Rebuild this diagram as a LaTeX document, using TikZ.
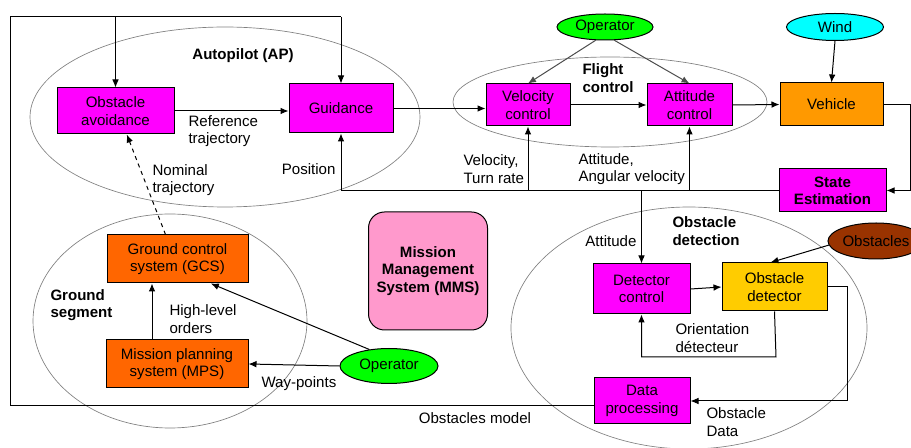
\documentclass[tikz,border=0pt]{standalone}
\usepackage{fontspec}
\setmainfont{Liberation Sans}
\usetikzlibrary{arrows.meta,shapes.geometric}

\definecolor{magbox}{RGB}{255,0,255}
\definecolor{vehorange}{RGB}{255,153,0}
\definecolor{gndorange}{RGB}{255,102,0}
\definecolor{opgreen}{RGB}{0,255,0}
\definecolor{windcyan}{RGB}{0,255,255}
\definecolor{obsbrown}{RGB}{153,51,0}
\definecolor{detyellow}{RGB}{255,204,0}
\definecolor{mmspink}{RGB}{255,153,204}

\newcommand{\diagfont}{\fontsize{11.3}{13}\selectfont}

\tikzset{every picture/.style={line width=0.75pt}}
\tikzset{
  blk/.style 2 args={draw, rectangle, align=center, inner sep=0pt,
    minimum width=#1*0.75pt, minimum height=#2*0.75pt},
  oval/.style 2 args={draw, ellipse, inner sep=0pt,
    minimum width=#1*0.75pt, minimum height=#2*0.75pt},
  group/.style={draw=gray, line width=0.5pt},
  lbl/.style={align=left, inner sep=0pt},
  ttl/.style={align=left, inner sep=0pt, font=\diagfont\bfseries},
  arr/.style={-{Latex[length=6pt,width=5pt]}},
}

\begin{document}
\begin{tikzpicture}[x=0.75pt,y=0.75pt,yscale=-1,xscale=1,
  font=\diagfont]
	\useasboundingbox (0,0) rectangle (911,448);

	%Groups (ellipses)
	\draw [group] (225,117) ellipse [x radius=195, y radius=90];
	\draw [group] (610,102) ellipse [x radius=157, y radius=45];
	\draw [group] (170,321) ellipse [x radius=137, y radius=107];
	\draw [group] (689,328) ellipse [x radius=178, y radius=121];

	%Autopilot
	\node [blk={117}{46}, fill=magbox] (oa) at (115.5,111) {Obstacle\\avoidance};
	\node [blk={104}{49}, fill=magbox] (guid) at (341,108.5) {Guidance};
	%Flight control
	\node [blk={84}{42}, fill=magbox] (velc) at (528,105) {Velocity\\control};
	\node [blk={85}{42}, fill=magbox] (attc) at (689.5,105) {Attitude\\control};
	\node [oval={96}{26}, fill=opgreen] (opf) at (605,27) {Operator};
	%Vehicle
	\node [blk={103}{43}, fill=vehorange] (veh) at (831.5,104.5) {Vehicle};
	\node [oval={97}{27}, fill=windcyan] (wind) at (835,27) {Wind};
	\node [blk={107}{43}, fill=magbox, font=\diagfont\bfseries] (se) at (832.5,190.5) {State\\Estimation};
	%Obstacle detection
	\node [blk={97}{50}, fill=magbox] (detc) at (641.5,289) {Detector\\control};
	\node [blk={105}{48}, fill=detyellow] (obsd) at (774.5,287) {Obstacle\\detector};
	\node [oval={96}{36}, fill=obsbrown] (obst) at (876,241) {Obstacles};
	\node [blk={96}{46}, fill=magbox] (dp) at (642,401) {Data\\processing};
	%Ground segment
	\node [blk={141}{48}, fill=gndorange] (gcs) at (177.5,259) {Ground control\\system (GCS)};
	\node [blk={142}{48}, fill=gndorange] (mps) at (177,364) {Mission planning\\system (MPS)};
	\node [oval={98}{35}, fill=opgreen] (opg) at (389,366) {Operator};
	%MMS
	\node [blk={119}{118}, fill=mmspink, rounded corners=12pt, font=\diagfont\bfseries] (mms) at (428,271) {Mission\\Management\\System (MMS)};

	%Outer loop
	\coordinate (fbl) at (10,406);
	\coordinate (ftl) at (10,17);
	\draw (dp.west |- fbl) -- (fbl) -- (ftl) -- (guid.north |- ftl);
	\draw [arr] (guid.north |- ftl) -- (guid.north);
	\draw [arr] (oa.north |- ftl) -- (oa.north);

	%Connectors
	\draw [arr] (oa.east) -- (oa.east -| guid.west);
	\draw [arr] (guid.east) -- (guid.east -| velc.west);
	\draw [arr] (velc.east) -- (attc.west);
	\draw [arr] (attc.east) -- (veh.west);
	\draw [arr, draw=black!70] (opf.235) -- (velc.north);
	\draw [arr, draw=black!70] (opf.305) -- (attc.north);
	\draw [arr] (wind.south) -- (veh.north);
	\draw [arr] (veh.east) -- (910,104.5) -- (910,190.5) -- (se.east);
	\draw [arr] (se.west) -- (se.west -| guid.south) -- (guid.south);
	\draw [arr] (se.west -| velc.south) -- (velc.south);
	\draw [arr] (se.west -| attc.south) -- (attc.south);
	\draw [arr] (se.west -| detc.north) -- (detc.north);
	\draw [arr] (detc.east) -- (obsd.west);
	\draw [arr] (obst.185) -- ([xshift=-3pt]obsd.north);
	\draw [arr] (obsd.south) -- (776,357) -- (detc.south |- 0,357) -- (detc.south);
	\draw [arr] (obsd.east) -- (847,287) -- (847,401) -- (dp.east);
	\draw [arr, dashed] ([xshift=-9pt]gcs.north) -- ([xshift=8.5pt]oa.south);
	\draw [arr] (mps.north -| 152,0) -- (gcs.south -| 152,0);
	\draw [arr] (opg.140) -- ([xshift=25pt]gcs.south);
	\draw [arr] (opg.west) -- (mps.east);

	%Labels
	\node [ttl] (aptitle) at (243,56) {Autopilot (AP)};
	\node [lbl, anchor=west] (reftraj) at (188,131) {Reference\\trajectory};
	\node [lbl, anchor=east] (poslbl) at (336,169) {Position};
	\node [lbl, anchor=west] (nomtraj) at (152,180) {Nominal\\trajectory};
	\node [ttl, anchor=west] (fctitle) at (582,78) {Flight\\control};
	\node [lbl, anchor=west] (velrate) at (463,169) {Velocity,\\Turn rate};
	\node [lbl, anchor=west] (attrate) at (578,169) {Attitude,\\Angular velocity};
	\node [lbl, anchor=east] (attlbl) at (637,241) {Attitude};
	\node [ttl, anchor=west] (odtitle) at (672,231) {Obstacle\\detection};
	\node [lbl, anchor=west] (orient) at (675,338) {Orientation\\détecteur};
	\node [lbl, anchor=west] (obsdata) at (706,422) {Obstacle\\Data};
	\node [lbl] (obsmodel) at (475,418) {Obstacles model};
	\node [ttl, anchor=west] (gstitle) at (50,305) {Ground\\segment};
	\node [lbl, anchor=west] (hlorders) at (169,319) {High-level\\orders};
	\node [lbl, anchor=west] (waypts) at (261,384) {Way-points};

\end{tikzpicture}
\end{document}
